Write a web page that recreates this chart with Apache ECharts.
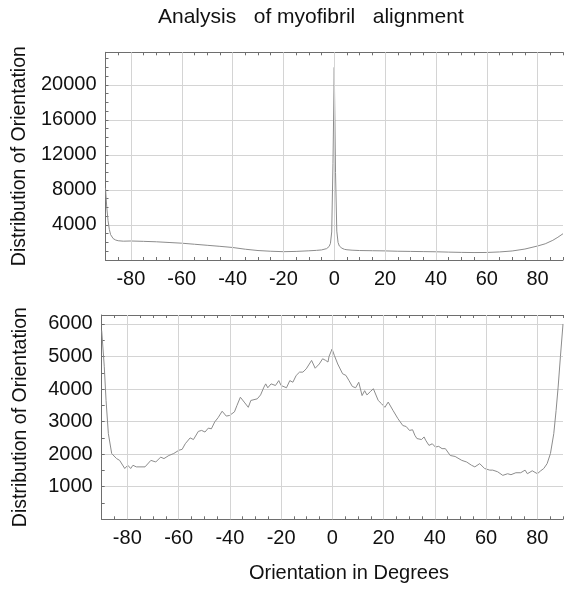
<!DOCTYPE html>
<html>
<head>
<meta charset="utf-8">
<script src="https://cdn.jsdelivr.net/npm/echarts@6/dist/echarts.min.js"></script>
<style>html,body{margin:0;padding:0;background:#fff;}#c{width:566px;height:592px;}</style>
</head>
<body>
<div id="c"></div>
<script>
const titleText = 'Analysis   of myofibril   alignment';
const yName = 'Distribution of Orientation';
const xName = 'Orientation in Degrees';

const topAngles = [-90, -89.5, -89, -88.5, -88, -87, -86, -85, -83, -80, -75, -70, -65, -60, -55, -50, -45, -40, -35, -30, -25, -20, -15, -10, -7, -5, -3, -2, -1.5, -1, -0.5, 0, 0.5, 1, 1.5, 2, 3, 4, 5, 7, 10, 15, 20, 25, 30, 35, 40, 45, 50, 55, 60, 65, 70, 75, 80, 83, 86, 88, 90];
const topValues = [8200, 6000, 4500, 3500, 2900, 2450, 2280, 2200, 2150, 2170, 2130, 2080, 2000, 1920, 1800, 1680, 1560, 1430, 1230, 1080, 1000, 950, 980, 1050, 1100, 1150, 1300, 1550, 1900, 3200, 11000, 22000, 10000, 3300, 2000, 1600, 1350, 1220, 1170, 1120, 1080, 1060, 1040, 1000, 980, 960, 940, 900, 870, 850, 860, 920, 1030, 1250, 1600, 1850, 2250, 2600, 3000];

const bottomAngles = [-90, -89, -88.3, -87.4, -86.1, -84.2, -83, -81, -79.8, -78.7, -77.8, -76.5, -73.1, -70.8, -68.9, -67, -65.7, -63.8, -61.9, -59.9, -58.6, -57.4, -55.5, -54.2, -52.3, -51, -49.7, -48.4, -47.2, -45.9, -44.6, -43, -41.4, -40.1, -38.2, -37.2, -35.9, -34.4, -32.8, -31.8, -29.3, -28, -26.7, -26, -25.2, -23.9, -22.2, -20.9, -20, -17.9, -16.6, -15.4, -14.1, -12.8, -11.5, -10.2, -8.1, -6.7, -5.1, -3.8, -2.6, -1.7, -1.3, -0.1, 0.8, 2.1, 4, 5.3, 6.5, 7.8, 9.1, 10.3, 11.6, 12.6, 13.5, 14.8, 16, 17.9, 19.2, 20.5, 21.8, 23.7, 25.6, 27.5, 28.8, 30.1, 31.3, 32.2, 33, 34.8, 35.8, 36.4, 37.7, 39, 40.2, 41.5, 42.8, 44.1, 46, 47.9, 50.5, 52.4, 54.3, 55.6, 57.5, 59.4, 61.4, 62.6, 64.5, 66.5, 68.4, 69.7, 71.6, 73.5, 75.2, 76.1, 78, 80, 81.3, 82.5, 83.8, 85.1, 86.4, 87.3, 88.1, 89, 90];
const bottomValues = [5800, 4700, 3650, 2630, 2020, 1865, 1810, 1560, 1660, 1560, 1660, 1610, 1610, 1810, 1760, 1910, 1865, 1960, 2020, 2120, 2150, 2320, 2500, 2450, 2700, 2730, 2680, 2800, 2780, 2990, 3120, 3320, 3170, 3190, 3300, 3500, 3750, 3600, 3440, 3650, 3700, 3820, 4060, 4160, 4040, 4160, 4110, 4260, 4110, 4040, 4260, 4210, 4420, 4520, 4520, 4620, 4880, 4640, 4770, 4930, 4880, 4830, 5000, 5230, 5030, 4770, 4470, 4420, 4260, 4080, 4040, 4210, 3800, 3950, 3820, 3920, 4010, 3650, 3550, 3440, 3600, 3340, 3090, 2880, 2850, 2730, 2750, 2580, 2480, 2450, 2530, 2430, 2270, 2320, 2220, 2240, 2170, 2170, 1960, 1930, 1810, 1760, 1660, 1610, 1710, 1560, 1510, 1510, 1460, 1350, 1400, 1370, 1430, 1430, 1510, 1400, 1490, 1400, 1490, 1560, 1710, 2020, 2630, 3340, 4060, 5000, 6000];

const xTickLabels = [-80, -60, -40, -20, 0, 20, 40, 60, 80];
const topYTicks = [4000, 8000, 12000, 16000, 20000];
const bottomYTicks = [1000, 2000, 3000, 4000, 5000, 6000];

const font = '"Liberation Sans", Arial, sans-serif';
const axisColor = '#6e6e6e';
const gridColor = '#d4d4d4';
const lineColor = '#8c8c8c';

function xAxisCfg(gridIndex) {
  return {
    type: 'value', gridIndex, min: -90, max: 90, interval: 5,
    axisLine: { show: true, onZero: false, lineStyle: { color: axisColor, width: 1 } },
    axisTick: { show: true, inside: true, length: 3, lineStyle: { color: axisColor } },
    splitLine: { show: false },
    axisLabel: {
      color: '#111', fontSize: 20, fontFamily: font, margin: 9,
      formatter: v => xTickLabels.includes(v) ? String(v) : ''
    }
  };
}
function xTopCfg(gridIndex) {
  return {
    type: 'value', gridIndex, position: 'top', min: -90, max: 90, interval: 5,
    axisLine: { show: true, onZero: false, lineStyle: { color: axisColor, width: 1 } },
    axisTick: { show: true, inside: true, length: 3, lineStyle: { color: axisColor } },
    splitLine: { show: false }, axisLabel: { show: false }
  };
}
function yCfg(gridIndex, max, interval, split, ticks, gap) {
  return {
    type: 'value', gridIndex, min: 0, max, interval,
    name: yName, nameLocation: 'middle', nameGap: gap, nameRotate: 90,
    nameTextStyle: { color: '#111', fontSize: 19.5, fontFamily: font },
    axisLine: { show: true, onZero: false, lineStyle: { color: axisColor } },
    axisTick: { show: true, inside: true, length: 3, lineStyle: { color: axisColor } },
    minorTick: { show: true, splitNumber: split, length: 3, lineStyle: { color: axisColor } },
    splitLine: { show: true, lineStyle: { color: gridColor } },
    axisLabel: { color: '#111', fontSize: 20, fontFamily: font, margin: 9, formatter: v => ticks.includes(v) ? String(v) : '' }
  };
}
const vGrid = xTickLabels.map(v => ({ xAxis: v }));
function gridMarks() {
  return { silent: true, symbol: 'none', label: { show: false }, animation: false,
    lineStyle: { color: gridColor, type: 'solid', width: 1 }, data: vGrid };
}

const chart = echarts.init(document.getElementById('c'), null, { renderer: 'canvas' });
chart.setOption({
  animation: false,
  backgroundColor: '#fff',
  graphic: [
    { type: 'text', x: 158, y: 17, style: { text: titleText, fill: '#111', font: '21px ' + font, textAlign: 'left', textVerticalAlign: 'middle' } },
    { type: 'text', x: 349, y: 573, style: { text: xName, fill: '#111', font: '20px ' + font, textAlign: 'center', textVerticalAlign: 'middle' } }
  ],
  grid: [
    { left: 105.5, top: 52.3, width: 466.5, height: 207.7, containLabel: false },
    { left: 101.7, top: 315, width: 469, height: 204.3, containLabel: false }
  ],
  xAxis: [xAxisCfg(0), xAxisCfg(1), xTopCfg(0), xTopCfg(1)],
  yAxis: [
    yCfg(0, 23720, 4000, 4, topYTicks, 75),
    yCfg(1, 6275, 1000, 2, bottomYTicks, 71)
  ],
  series: [
    {
      type: 'line', xAxisIndex: 0, yAxisIndex: 0, showSymbol: false, symbol: 'none', z: 3,
      lineStyle: { color: lineColor, width: 1 },
      markLine: gridMarks(),
      data: topAngles.map((a, i) => [a, topValues[i]])
    },
    {
      type: 'line', xAxisIndex: 1, yAxisIndex: 1, showSymbol: false, symbol: 'none', z: 3,
      lineStyle: { color: lineColor, width: 1 },
      markLine: gridMarks(),
      data: bottomAngles.map((a, i) => [a, bottomValues[i]])
    }
  ]
});
</script>
</body>
</html>
